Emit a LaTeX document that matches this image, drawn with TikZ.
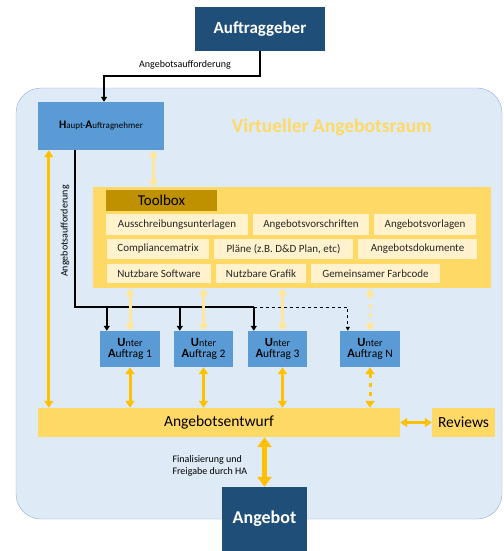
\documentclass[tikz,border=0pt]{standalone}
\usepackage{fontspec}
\setmainfont{Carlito}
\usepackage{tikz}
\usetikzlibrary{arrows.meta,calc}

\definecolor{darkblue}{HTML}{1F4E79}
\definecolor{midblue}{HTML}{5B9BD5}
\definecolor{roombg}{HTML}{DEEBF7}
\definecolor{roomline}{HTML}{8FAADC}
\definecolor{gold}{HTML}{FFD966}
\definecolor{tbhead}{HTML}{BF9000}
\definecolor{tbitem}{HTML}{FFF2CC}
\definecolor{paleyellow}{HTML}{FFE699}
\definecolor{orange}{HTML}{FFC000}

\tikzset{
    darkbox/.style={fill=darkblue, text=white, font=\fontsize{17}{19}\selectfont\bfseries, inner sep=0pt},
    bluebox/.style={fill=midblue, inner sep=0pt, align=center},
    itembox/.style={fill=tbitem, inner sep=0pt, font=\fontsize{11}{13}\selectfont, text=black!85},
    goldbox/.style={fill=gold, inner sep=0pt, font=\fontsize{15.5}{17}\selectfont},
    oarrow/.style={draw=orange, line width=3pt, {Triangle[width=9pt,length=7pt]}-{Triangle[width=9pt,length=7pt]}},
    parrow/.style={draw=paleyellow, line width=3pt, {Triangle[width=9pt,length=7pt]}-{Triangle[width=9pt,length=7pt]}},
    blk/.style={draw=black, line width=2pt, -{Triangle[width=6pt,length=5pt]}},
    small/.style={font=\fontsize{10}{12.5}\selectfont}
}

\newcommand{\unterlabel}[1]{{\fontsize{12.5}{14}\selectfont\bfseries U}{\fontsize{10}{14}\selectfont nter}\\[-1pt]{\fontsize{12.5}{14}\selectfont\bfseries A}{\fontsize{11.5}{14}\selectfont uftrag #1}}

\begin{document}
\begin{tikzpicture}[x=1pt, y=-1pt]
    \useasboundingbox (0,0) rectangle (503,551);

    % virtueller Raum
    \draw[fill=roombg, draw=roomline, rounded corners=25pt] (16,88) rectangle (502,519);
    \node[text=gold, font=\fontsize{19.5}{21}\selectfont\bfseries] (title) at (332,127) {Virtueller Angebotsraum};

    \node[darkbox, minimum width=130pt, minimum height=44pt] (ag) at (260,29) {Auftraggeber};
    \node[bluebox, minimum width=126pt, minimum height=48pt] (ha) at (101,126)
        {{\fontsize{11.5}{13}\selectfont\bfseries H}{\fontsize{9}{13}\selectfont aupt-}{\fontsize{11.5}{13}\selectfont\bfseries A}{\fontsize{9}{13}\selectfont uftragnehmer}};

    % Toolbox
    \node[fill=gold, minimum width=398pt, minimum height=101pt, inner sep=0pt] (tb) at (292,237.5) {};
    \node[fill=tbhead, minimum width=111pt, minimum height=21pt, inner sep=0pt, font=\fontsize{15}{17}\selectfont] (tbh) at (161.5,200.5) {Toolbox};

    \node[itembox, minimum width=142pt, minimum height=21pt] (aus) at (177,224.5) {Ausschreibungsunterlagen};
    \node[itembox, minimum width=116pt, minimum height=21pt] (vor) at (311,224.5) {Angebotsvorschriften};
    \node[itembox, minimum width=102pt, minimum height=21pt] (vorl) at (425,224.5) {Angebotsvorlagen};
    \node[itembox, minimum width=102pt, minimum height=20pt] (comp) at (158,249) {Compliancematrix};
    \node[itembox, minimum width=139pt, minimum height=20pt] (plan) at (283.5,249) {Pläne (z.B. D\&D Plan, etc)};
    \node[itembox, minimum width=119pt, minimum height=20pt] (dok) at (417.5,249) {Angebotsdokumente};
    \node[itembox, minimum width=104pt, minimum height=19pt] (soft) at (159,273.5) {Nutzbare Software};
    \node[itembox, minimum width=90pt, minimum height=19pt] (graf) at (261,273.5) {Nutzbare Grafik};
    \node[itembox, minimum width=129pt, minimum height=19pt] (farb) at (375.5,273.5) {Gemeinsamer Farbcode};

    % Unteraufträge
    \node[bluebox, minimum width=60pt, minimum height=36pt] (u1) at (130,349) {\unterlabel{1}};
    \node[bluebox, minimum width=59pt, minimum height=36pt] (u2) at (203.5,349) {\unterlabel{2}};
    \node[bluebox, minimum width=59pt, minimum height=36pt] (u3) at (277.5,349) {\unterlabel{3}};
    \node[bluebox, minimum width=60pt, minimum height=36pt] (un) at (370,349) {\unterlabel{N}};

    \node[goldbox, minimum width=362pt, minimum height=29pt] (ae) at (219,422.5) {Angebotsentwurf};
    \node[goldbox, minimum width=63pt, minimum height=29pt] (rev) at (463.5,422.5) {Reviews};
    \node[darkbox, minimum width=85pt, minimum height=64pt, font=\fontsize{18}{20}\selectfont\bfseries] (ang) at (264.5,519) {Angebot};

    % Anfrage
    \draw[blk] (ag.south) -- ++(0,25) -| ([xshift=3pt]ha.north);
    \node[small] (agl) at (185,65) {Angebotsaufforderung};

    \coordinate (bus) at (75,307);
    \node[small, rotate=90] (hal) at (65,231) {Angebotsaufforderung};
    \draw[draw=black, line width=2pt] (bus |- ha.south) -- (bus) -- ([xshift=6pt]u3.north west |- bus);
    \draw[blk] ([xshift=7pt]u1.north west |- bus) -- ([xshift=7pt]u1.north west);
    \draw[blk] ([xshift=6pt]u2.north west |- bus) -- ([xshift=6pt]u2.north west);
    \draw[blk] ([xshift=6pt]u3.north west |- bus) -- ([xshift=6pt]u3.north west);
    \draw[draw=black, line width=0.7pt, dashed, -{Triangle[width=4pt,length=4pt]}]
        ([xshift=6pt]u3.north west |- bus) -| ([xshift=8pt]un.north west);

    % Toolbox-Zugriff
    \draw[parrow] ([xshift=-11pt]ha.south east) -- ([xshift=-11pt]ha.south east |- tb.north);
    \draw[parrow] (u1.north |- tb.south) -- (u1.north);
    \draw[parrow] (u2.north |- tb.south) -- (u2.north);
    \draw[parrow] ([xshift=5pt]u3.north |- tb.south) -- ([xshift=5pt]u3.north);
    \draw[parrow, dash pattern=on 4pt off 5pt] (un.north |- tb.south) -- (un.north);

    % Beiträge zum Entwurf
    \draw[oarrow] ([xshift=11pt]ha.south west) -- ([xshift=11pt]ae.north west);
    \draw[oarrow] (u1.south) -- (u1.south |- ae.north);
    \draw[oarrow] (u2.south) -- (u2.south |- ae.north);
    \draw[oarrow] ([xshift=5pt]u3.south) -- ([xshift=5pt]u3.south |- ae.north);
    \draw[oarrow, dash pattern=on 4pt off 5pt] (un.south) -- (un.south |- ae.north);
    \draw[oarrow] (ae.east) -- (rev.west);

    \draw[draw=orange, line width=4.5pt, {Triangle[width=14pt,length=10pt]}-{Triangle[width=14pt,length=10pt]}] (ang.north |- ae.south) -- (ang.north);
    \node[small, align=left, anchor=west] (fin) at (169,466) {Finalisierung und\\Freigabe durch HA};
\end{tikzpicture}
\end{document}
